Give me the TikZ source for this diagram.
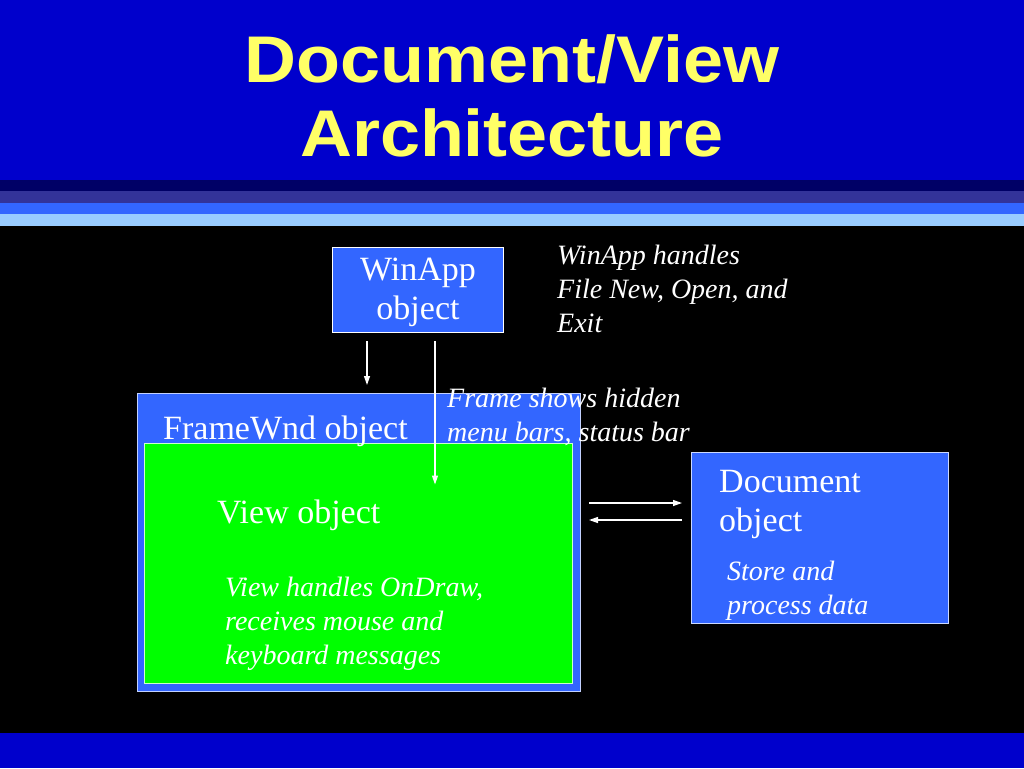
\documentclass[tikz,border=0pt]{standalone}
\usepackage{fontspec}
\setmainfont{Liberation Serif}
\newfontfamily\titlefont{Liberation Sans}
\usetikzlibrary{calc,arrows.meta}
\definecolor{slideblue}{HTML}{0000CC}
\definecolor{navy}{HTML}{000066}
\definecolor{indigo}{HTML}{333399}
\definecolor{midblue}{HTML}{3366FF}
\definecolor{lightblue}{HTML}{99CCFF}
\definecolor{boxblue}{HTML}{3366FF}
\definecolor{viewgreen}{HTML}{00FF00}
\definecolor{titleyellow}{HTML}{FFFF66}
\newcommand{\widetitle}[1]{\scalebox{1.09}[1]{#1}}
\tikzset{
  box/.style={draw=#1, line width=1pt, fill=boxblue, inner sep=0pt, outer sep=0pt},
  box/.default=white,
  maintext/.style={text=white, inner sep=0pt, font=\fontsize{34}{39}\selectfont},
  notetext/.style={text=white, inner sep=0pt, align=left, font=\fontsize{28}{34}\selectfont\itshape},
  arr/.style={draw=white, line width=1.2pt, -{Triangle[length=9pt,width=6pt]}},
}
\begin{document}
\begin{tikzpicture}[x=1pt,y=-1pt]
\useasboundingbox (0,0) rectangle (1024,768);
% background
\fill[black] (0,0) rectangle (1024,768);
\fill[slideblue] (0,0) rectangle (1024,180);
\fill[navy] (0,180) rectangle (1024,191);
\fill[indigo] (0,191) rectangle (1024,203);
\fill[midblue] (0,203) rectangle (1024,214);
\fill[lightblue] (0,214) rectangle (1024,226);
\fill[slideblue] (0,733) rectangle (1024,768);
% title (base anchor = baseline of last line)
\node[text=titleyellow, inner sep=0pt, align=center, anchor=base,
      font=\fontsize{66}{74}\selectfont\titlefont\bfseries] (title) at (512,156)
      {\widetitle{Document/View}\\\widetitle{Architecture}};
% boxes
\node[box, minimum width=171pt, minimum height=85pt] (winapp) at (417.5,289.5) {};
\node[box=white!70!boxblue, minimum width=443pt, minimum height=298pt] (frame) at (358.5,542) {};
\node[draw=white!80!viewgreen, line width=1pt, fill=viewgreen, inner sep=0pt,
      minimum width=428pt, minimum height=240pt] (view) at (358,563) {};
\node[box=white!75!boxblue, minimum width=257pt, minimum height=171pt] (doc) at (819.5,537.5) {};
% box texts
\node[maintext, align=center, anchor=base] (winappt) at (418,319) {WinApp\\object};
\node[maintext, anchor=base west] (framet) at (163,439) {FrameWnd object};
\node[maintext, anchor=base west] (viewt) at (217,523) {View object};
\node[maintext, align=left, anchor=base west] (doct) at (719,531) {Document\\object};
% notes
\node[notetext, anchor=base west] (winappn) at (557,332) {WinApp handles\\File New, Open, and\\Exit};
\node[notetext, anchor=base west] (framen) at (447,441) {Frame shows hidden\\menu bars, status bar};
\node[notetext, anchor=base west] (viewn) at (225,664) {View handles OnDraw,\\receives mouse and\\keyboard messages};
\node[notetext, anchor=base west] (docn) at (727,614) {Store and\\process data};
% arrows
\draw[arr] ($(winapp.south)+(-50.5,9)$) -- ($(frame.north)+(8.5,-8)$);
\draw[arr] ($(winapp.south)+(17.5,9)$) -- ($(view.north)+(77,42)$);
\draw[arr] ($(frame.east)+(9,-39)$) -- ($(doc.west)+(-9,-34.5)$);
\draw[arr] ($(doc.west)+(-9,-17.5)$) -- ($(frame.east)+(9,-22)$);
\end{tikzpicture}
\end{document}
